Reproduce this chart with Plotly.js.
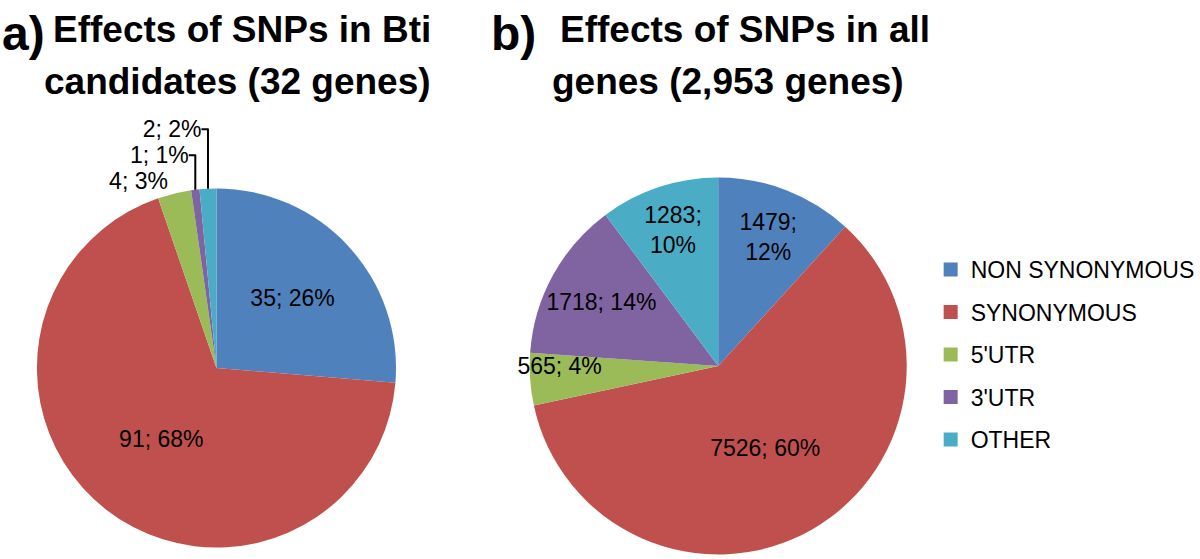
<!DOCTYPE html>
<html>
<head>
<meta charset="utf-8">
<script src="https://cdn.plot.ly/plotly-3.0.1.min.js"></script>
<style>
  html, body { margin: 0; padding: 0; background: #fff; }
  #chart { width: 1200px; height: 559px; }
</style>
</head>
<body>
<div id="chart"></div>
<script>
// SNP effect categories and counts
var categories = ['NON SYNONYMOUS', 'SYNONYMOUS', "5'UTR", "3'UTR", 'OTHER'];
var btiCounts = [35, 91, 4, 1, 2];          // Bti candidates (32 genes)
var allCounts = [1479, 7526, 565, 1718, 1283]; // all genes (2,953 genes)

var colors = ['#4F81BD', '#C0504D', '#9BBB59', '#8064A2', '#4BACC6'];
var labelFont = {family: 'Liberation Sans, Arial, sans-serif', size: 23, color: '#000'};
var titleFont = {family: 'Liberation Sans, Arial, sans-serif', size: 37, color: '#000', weight: 'bold'};
var letterFont = {family: 'Liberation Sans, Arial, sans-serif', size: 48, color: '#000', weight: 'bold'};

var W = 1200, H = 559;
function px(x) { return x / W; }
function py(y) { return 1 - y / H; }

var pieA = {
  type: 'pie',
  labels: categories,
  values: btiCounts,
  sort: false,
  direction: 'clockwise',
  rotation: 0,
  marker: {colors: colors, line: {width: 0}},
  texttemplate: '%{value}; %{percent:.0%}',
  textposition: ['inside', 'inside', 'outside', 'outside', 'outside'],
  insidetextorientation: 'horizontal',
  textfont: labelFont,
  domain: {x: [px(37), px(397)], y: [py(548), py(188)]},
  showlegend: false,
  hoverinfo: 'label+value+percent'
};

var pieB = {
  type: 'pie',
  labels: categories,
  values: allCounts,
  sort: false,
  direction: 'clockwise',
  rotation: 0,
  marker: {colors: colors, line: {width: 0}},
  texttemplate: ['%{value};<br>%{percent:.0%}', '%{value}; %{percent:.0%}', '%{value}; %{percent:.0%}',
                 '%{value}; %{percent:.0%}', '%{value};<br>%{percent:.0%}'],
  textposition: 'inside',
  insidetextorientation: 'horizontal',
  textfont: labelFont,
  domain: {x: [px(531), px(909)], y: [py(555), py(177)]},
  showlegend: false,
  hoverinfo: 'label+value+percent'
};

// legend-only entries so the spacing between items can match
var legendTraces = categories.map(function (c, i) {
  return {
    type: 'scatter', mode: 'markers', x: [null], y: [null],
    name: c, legendgroup: 'g' + i,
    marker: {symbol: 'square', size: 14, color: colors[i]},
    hoverinfo: 'skip'
  };
});

var layout = {
  width: W, height: H,
  margin: {l: 0, r: 0, t: 0, b: 0},
  paper_bgcolor: '#fff', plot_bgcolor: '#fff',
  xaxis: {visible: false}, yaxis: {visible: false},
  showlegend: true,
  uniformtext: {minsize: 23, mode: 'show'},
  legend: {
    x: px(933), y: py(248), xanchor: 'left', yanchor: 'top',
    font: labelFont, traceorder: 'grouped', tracegroupgap: 9.6,
    bgcolor: 'rgba(0,0,0,0)'
  },
  annotations: [
    {text: 'a)', x: px(0), y: py(33), xref: 'paper', yref: 'paper', xanchor: 'left', yanchor: 'middle', showarrow: false, font: letterFont},
    {text: 'Effects of SNPs in Bti', x: px(243), y: py(29.5), xref: 'paper', yref: 'paper', xanchor: 'center', yanchor: 'middle', showarrow: false, font: titleFont},
    {text: 'candidates (32 genes)', x: px(238), y: py(81.5), xref: 'paper', yref: 'paper', xanchor: 'center', yanchor: 'middle', showarrow: false, font: titleFont},
    {text: 'b)', x: px(490), y: py(33), xref: 'paper', yref: 'paper', xanchor: 'left', yanchor: 'middle', showarrow: false, font: letterFont},
    {text: 'Effects of SNPs in all', x: px(747), y: py(29.5), xref: 'paper', yref: 'paper', xanchor: 'center', yanchor: 'middle', showarrow: false, font: titleFont},
    {text: 'genes (2,953 genes)', x: px(730), y: py(81.5), xref: 'paper', yref: 'paper', xanchor: 'center', yanchor: 'middle', showarrow: false, font: titleFont}
  ]
};

Plotly.newPlot('chart', [pieA, pieB].concat(legendTraces), layout, {displayModeBar: false, staticPlot: true});
</script>
</body>
</html>
